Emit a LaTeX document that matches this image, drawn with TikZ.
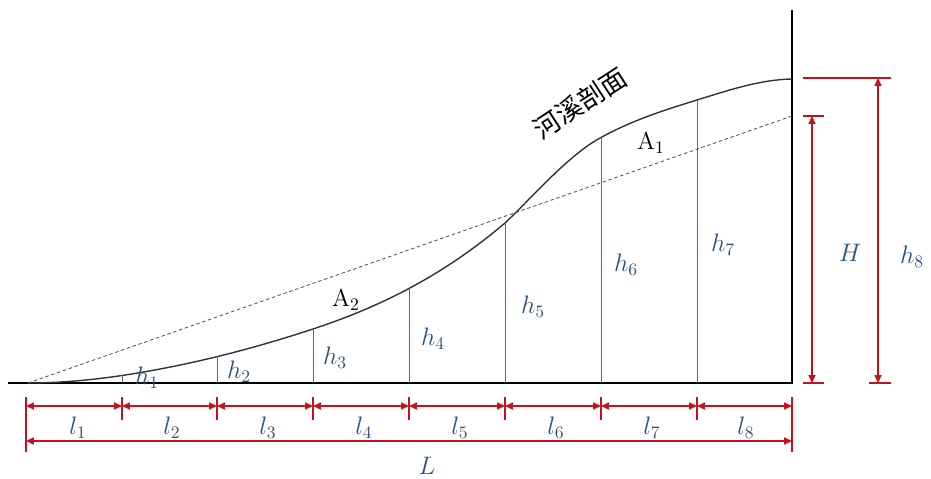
\documentclass[tikz,border=0pt]{standalone}
\usepackage{fontspec}
\newfontfamily\cjk{Noto Sans CJK SC}
\usetikzlibrary{arrows.meta}
\definecolor{dimred}{RGB}{200,16,28}
\definecolor{labblue}{RGB}{42,82,130}
\tikzset{
  dim/.style={dimred, line width=0.8pt, {Triangle[length=4.5pt,width=4pt]}-{Triangle[length=4.5pt,width=4pt]}},
  dimtick/.style={dimred, line width=0.8pt},
  hlab/.style={text=labblue, font=\fontsize{14.5}{17}\selectfont, inner sep=0pt},
  alab/.style={font=\fontsize{14}{17}\selectfont, inner sep=0pt},
}

\begin{document}
\begin{tikzpicture}[x=0.02cm, y=-0.02cm]
\useasboundingbox (0,0) rectangle (931,479);
% ground line and right wall
\coordinate (g0) at (8,383);
\coordinate (o) at (28,383);
\coordinate (wb) at (792,383);
\coordinate (wt) at (792,10);
\draw[line width=1pt] (g0) -- (wb) -- (wt);

% division points
\foreach \x [count=\i from 0] in {26,122,217,313,409,505,601,697,792} {
  \coordinate (b\i) at (\x,383);
  \coordinate (d\i) at (\x,406);
}
\foreach \x/\y [count=\i] in {122/375.5,217/356.5,313/329,409/287.5,505/223,601/137.5,697/100} {
  \coordinate (c\i) at (\x,\y);
}
\coordinate (top) at (792,79);
\coordinate (mid) at (792,116);

% profile
\draw[line width=0.8pt, black!80] (o) .. controls (59.3,383) and (90.7,380.2) .. (c1)
  .. controls (185.7,365.9) and (249.3,350) .. (c3)
  .. controls (377,307.9) and (441,277.4) .. (c5)
  .. controls (532.2,197.5) and (568.2,155.1) .. (c6)
  .. controls (633,119.9) and (665,109.9) .. (c7)
  .. controls (728.7,90.2) and (760.3,79.6) .. (top);
\draw[gray!70!black, line width=0.5pt, dash pattern=on 2pt off 1.5pt] (o) -- (mid);
\foreach \i in {1,...,7}
  \draw[gray!80!black, line width=0.5pt] (b\i) -- (c\i);

% widths
\foreach \i in {1,...,7}
  \draw[dimtick] ([shift={(0,-9)}]d\i) -- ([shift={(0,14)}]d\i);
\draw[dimtick] ([shift={(0,-9)}]d0) -- ([shift={(0,46)}]d0);
\draw[dimtick] ([shift={(0,-9)}]d8) -- ([shift={(0,46)}]d8);
\foreach \i [remember=\i as \last (initially 0)] in {1,...,8}
  \draw[dim] (d\last) -- (d\i);
\coordinate (L0) at (26,441);
\coordinate (L1) at (792,441);
\draw[dim] (L0) -- (L1);

% heights
\coordinate (Ht) at (812,116);
\coordinate (Hb) at (812,383);
\coordinate (Kt) at (878,78);
\coordinate (Kb) at (878,383);
\draw[dimtick] (803,116) -- (824,116);
\draw[dimtick] (803,383) -- (824,383);
\draw[dimtick] (803,78) -- (891,78);
\draw[dimtick] (869,383) -- (891,383);
\draw[dim] (Hb) -- (Ht);
\draw[dim] (Kb) -- (Kt);

% labels
\node[hlab] (h1) at (147,378) {$h_1$};
\node[hlab] (h2) at (239,372) {$h_2$};
\node[hlab] (h3) at (335,358) {$h_3$};
\node[hlab] (h4) at (433,339) {$h_4$};
\node[hlab] (h5) at (533,307) {$h_5$};
\node[hlab] (h6) at (626,265) {$h_6$};
\node[hlab] (h7) at (723,245) {$h_7$};
\node[hlab] (hH) at (850,253) {$H$};
\node[hlab] (h8) at (912,257) {$h_8$};
\foreach \x [count=\i] in {78,172,268,364,460,556,652,746}
  \node[hlab] (l\i) at (\x,428) {$l_{\i}$};
\node[hlab] (lL) at (427,466) {$L$};
\node[alab] (a1) at (651,143) {A$_1$};
\node[alab] (a2) at (346,300) {A$_2$};
\node[rotate=33, font=\cjk\fontsize{15}{18}\selectfont, inner sep=0pt] (title) at (580,103) {河溪剖面};
\end{tikzpicture}
\end{document}
